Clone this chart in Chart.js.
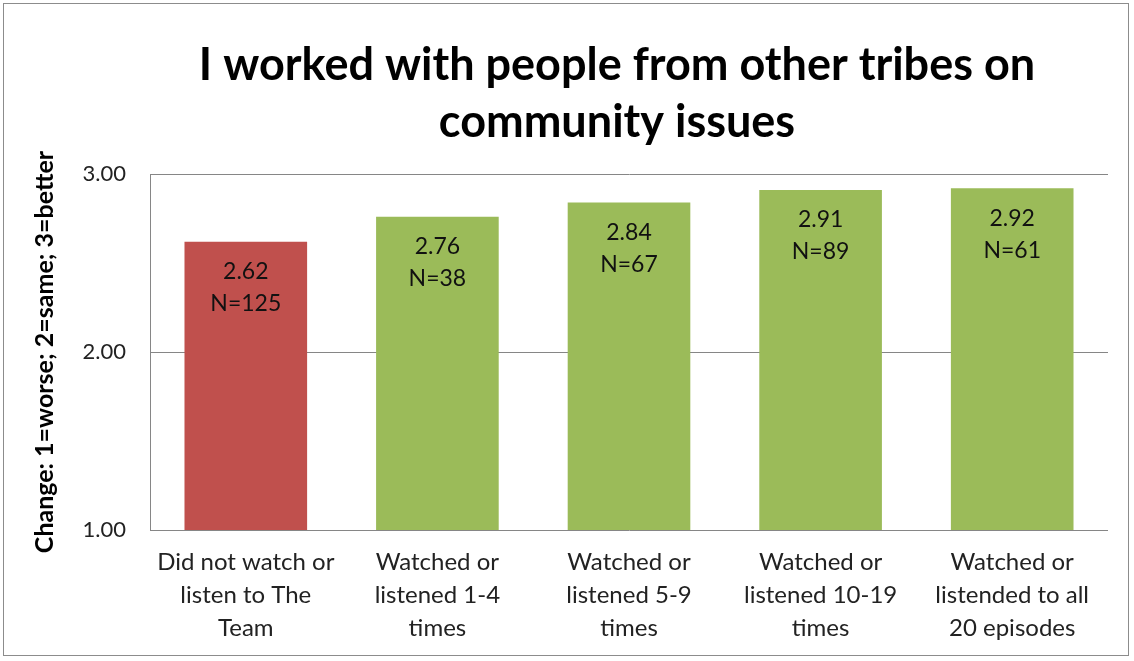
<!DOCTYPE html>
<html>
<head>
<meta charset="utf-8">
<script src="https://cdn.jsdelivr.net/npm/chart.js@4.4.1/dist/chart.umd.min.js"></script>
<style>
    html, body { margin: 0; padding: 0; background: #fff; }
    #wrap { position: absolute; left: 0; top: 0; width: 1134px; height: 661px; }
    #frame { position: absolute; left: 3px; top: 3px; width: 1124px; height: 651px; border: 1px solid #8c8c8c; pointer-events: none; }
</style>
</head>
<body>
<div id="wrap">
    <canvas id="chart" width="1134" height="661"></canvas>
    <div id="frame"></div>
</div>
<script>
const categories = [
    ['Did not watch or', 'listen to The', 'Team'],
    ['Watched or', 'listened 1-4', 'times'],
    ['Watched or', 'listened 5-9', 'times'],
    ['Watched or', 'listened 10-19', 'times'],
    ['Watched or', 'listended to all', '20 episodes']
];
const scores = [2.62, 2.76, 2.84, 2.91, 2.92];
const counts = [125, 38, 67, 89, 61];
const yTicks = [1, 2, 3];
const titleLines = ['I worked with people from other tribes on', 'community issues'];

const FONT = 'Lato, "Open Sans", sans-serif';
const barColors = scores.map((v, i) => i === 0 ? '#C0504D' : '#9BBB59');

// chart title, centred on the whole frame like the original
const frameTitle = {
    id: 'frameTitle',
    afterDraw(chart) {
        const ctx = chart.ctx;
        ctx.save();
        ctx.font = 'bold 45px ' + FONT;
        ctx.fillStyle = '#000';
        ctx.textAlign = 'center';
        ctx.textBaseline = 'middle';
        titleLines.forEach((line, i) => ctx.fillText(line, 617, 65 + i * 57));
        ctx.restore();
    }
};

// value + N labels drawn inside the top of each bar
const barLabels = {
    id: 'barLabels',
    afterDatasetsDraw(chart) {
        const ctx = chart.ctx;
        const meta = chart.getDatasetMeta(0);
        ctx.save();
        ctx.font = '23px ' + FONT;
        ctx.fillStyle = '#111';
        ctx.textAlign = 'center';
        ctx.textBaseline = 'middle';
        meta.data.forEach((bar, i) => {
            ctx.fillText(scores[i].toFixed(2), bar.x, bar.y + 30);
            ctx.fillText('N=' + counts[i], bar.x, bar.y + 62);
        });
        ctx.restore();
    }
};

new Chart(document.getElementById('chart'), {
    type: 'bar',
    data: {
        labels: categories,
        datasets: [{
            data: scores,
            backgroundColor: barColors,
            barPercentage: 0.64,
            categoryPercentage: 1
        }]
    },
    options: {
        responsive: false,
        animation: false,
        layout: { padding: { top: 174, right: 26, left: 30, bottom: 0 } },
        plugins: {
            legend: { display: false },
            tooltip: { enabled: false },
            title: { display: false }
        },
        scales: {
            x: {
                grid: { display: false, drawTicks: false },
                border: { display: false },
                ticks: {
                    color: '#222',
                    font: { family: FONT, size: 24, lineHeight: 1.375 },
                    padding: 16,
                    maxRotation: 0,
                    autoSkip: false
                },
                afterFit(scale) { scale.height = 131; }
            },
            y: {
                min: 1,
                max: 3,
                afterBuildTicks(scale) { scale.ticks = yTicks.map(v => ({ value: v })); },
                grid: { color: '#868686', drawTicks: false },
                border: { display: true, color: '#868686' },
                ticks: {
                    color: '#222',
                    font: { family: FONT, size: 22 },
                    padding: 24,
                    callback: v => Number(v).toFixed(2)
                },
                title: {
                    display: true,
                    text: 'Change: 1=worse; 2=same; 3=better',
                    color: '#000',
                    font: { family: FONT, size: 25, weight: 'bold' },
                    padding: { top: 0, bottom: 0 }
                },
                afterFit(scale) { scale.width = 120; }
            }
        }
    },
    plugins: [barLabels, frameTitle]
});
</script>
</body>
</html>
